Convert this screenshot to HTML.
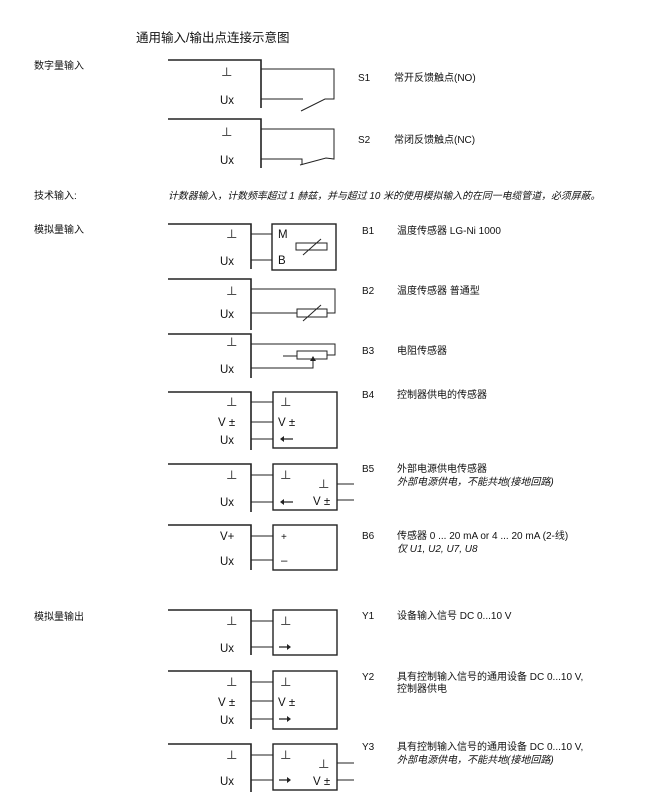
<!DOCTYPE html>
<html><head><meta charset="utf-8"><style>
html,body{margin:0;padding:0;background:#fff}
svg{display:block}
text{font-family:"Liberation Sans","Noto Sans CJK SC",sans-serif;fill:#111}
.s{font-size:10px}
.l{font-size:11.5px}
.i{font-style:italic}
</style></head><body>
<svg width="672" height="800" viewBox="0 0 672 800" xmlns="http://www.w3.org/2000/svg">
<g fill="none" stroke="#222" stroke-width="1">
<path d="M168 60H261V108" stroke-width="1.6"/>
<path d="M261 69H334V99H325L301 111M261 99H303"/>
<path d="M168 119H261V168" stroke-width="1.6"/>
<path d="M261 129H334V159L326 158L300 165M261 159H302V165"/>
<path d="M168 224H251V269" stroke-width="1.6"/>
<rect x="272" y="224" width="64" height="46" stroke-width="1.4"/>
<path d="M251 234H272M251 260H272"/>
<rect x="296" y="243" width="31" height="7"/><path d="M303 255L321 239"/>
<path d="M168 279H251V330" stroke-width="1.6"/>
<path d="M251 289H335V313H327M251 313H297"/>
<rect x="297" y="309" width="30" height="8"/><path d="M303 321L321 305"/>
<path d="M168 334H251V378" stroke-width="1.6"/>
<path d="M251 344H335V355H327M283 356H297M251 368H313V361"/>
<rect x="297" y="351" width="30" height="8"/>
<path d="M168 392H251V450" stroke-width="1.6"/>
<rect x="273" y="392" width="64" height="56" stroke-width="1.4"/>
<path d="M251 402H273M251 422H273M251 439H273"/>
<path d="M168 464H251V512" stroke-width="1.6"/>
<rect x="273" y="464" width="64" height="46" stroke-width="1.4"/>
<path d="M251 475H273M251 502H273M337 484H354M337 500H354"/>
<path d="M168 525H251V570" stroke-width="1.6"/>
<rect x="273" y="525" width="64" height="45" stroke-width="1.4"/>
<path d="M251 536H273M251 560H273"/>
<path d="M168 610H251V655" stroke-width="1.6"/>
<rect x="273" y="610" width="64" height="45" stroke-width="1.4"/>
<path d="M251 621H273M251 647H273"/>
<path d="M168 671H251V729" stroke-width="1.6"/>
<rect x="273" y="671" width="64" height="58" stroke-width="1.4"/>
<path d="M251 682H273M251 701H273M251 719H273"/>
<path d="M168 744H251V792" stroke-width="1.6"/>
<rect x="273" y="744" width="64" height="46" stroke-width="1.4"/>
<path d="M251 755H273M251 780H273M337 763H354M337 780H354"/>
<path d="M282 439H293M282 502H293M279 647H288M279 719H288M279 780H288" stroke-width="1.2"/>
</g>
<g fill="#222">
<path d="M310 361l3-5 3 5z"/>
<path d="M280 439l4-3v6zM280 502l4-3v6z"/>
<path d="M291 647l-4-3v6zM291 719l-4-3v6zM291 780l-4-3v6z"/>
</g>
<g class="l">
<text x="221" y="76">⊥</text><text x="220" y="104">Ux</text>
<text x="221" y="136">⊥</text><text x="220" y="164">Ux</text>
<text x="226" y="238">⊥</text><text x="220" y="265">Ux</text>
<text x="226" y="295">⊥</text><text x="220" y="318">Ux</text>
<text x="226" y="346">⊥</text><text x="220" y="373">Ux</text>
<text x="226" y="406">⊥</text><text x="218" y="426">V ±</text><text x="220" y="444">Ux</text>
<text x="226" y="479">⊥</text><text x="220" y="506">Ux</text>
<text x="220" y="540">V+</text><text x="220" y="565">Ux</text>
<text x="226" y="625">⊥</text><text x="220" y="652">Ux</text>
<text x="226" y="686">⊥</text><text x="218" y="706">V ±</text><text x="220" y="724">Ux</text>
<text x="226" y="759">⊥</text><text x="220" y="785">Ux</text>
<text x="278" y="238">M</text><text x="278" y="264">B</text>
<text x="280" y="406">⊥</text><text x="278" y="426">V ±</text>
<text x="280" y="479">⊥</text><text x="318" y="488">⊥</text><text x="313" y="505">V ±</text>
<text x="281" y="540" style="font-size:10px">+</text><text x="281" y="564">–</text>
<text x="280" y="625">⊥</text>
<text x="280" y="686">⊥</text><text x="278" y="706">V ±</text>
<text x="280" y="759">⊥</text><text x="318" y="768">⊥</text><text x="313" y="785">V ±</text>
</g>
<text x="136" y="42" style="font-size:12.5px">通用输入/输出点连接示意图</text>
<g class="s">
<text x="34" y="69">数字量输入</text>
<text x="34" y="199">技术输入:</text>
<text x="34" y="233">模拟量输入</text>
<text x="34" y="620">模拟量输出</text>
<text x="168" y="199" class="i" style="font-size:9.9px">计数器输入，计数频率超过 1 赫兹，并与超过 10 米的使用模拟输入的在同一电缆管道，必须屏蔽。</text>
<text x="358" y="81">S1</text><text x="394" y="81">常开反馈触点(NO)</text>
<text x="358" y="143">S2</text><text x="394" y="143">常闭反馈触点(NC)</text>
<text x="362" y="234">B1</text><text x="397" y="234">温度传感器 LG-Ni 1000</text>
<text x="362" y="294">B2</text><text x="397" y="294">温度传感器 普通型</text>
<text x="362" y="354">B3</text><text x="397" y="354">电阻传感器</text>
<text x="362" y="398">B4</text><text x="397" y="398">控制器供电的传感器</text>
<text x="362" y="472">B5</text><text x="397" y="472">外部电源供电传感器</text>
<text x="397" y="485" class="i">外部电源供电，不能共地(接地回路)</text>
<text x="362" y="539">B6</text><text x="397" y="539">传感器 0 ... 20 mA or 4 ... 20 mA (2-线)</text>
<text x="397" y="552" class="i">仅 U1, U2, U7, U8</text>
<text x="362" y="619">Y1</text><text x="397" y="619">设备输入信号 DC 0...10 V</text>
<text x="362" y="680">Y2</text><text x="397" y="680">具有控制输入信号的通用设备 DC 0...10 V,</text>
<text x="397" y="692">控制器供电</text>
<text x="362" y="750">Y3</text><text x="397" y="750">具有控制输入信号的通用设备 DC 0...10 V,</text>
<text x="397" y="763" class="i">外部电源供电，不能共地(接地回路)</text>
</g>
</svg>
</body></html>
